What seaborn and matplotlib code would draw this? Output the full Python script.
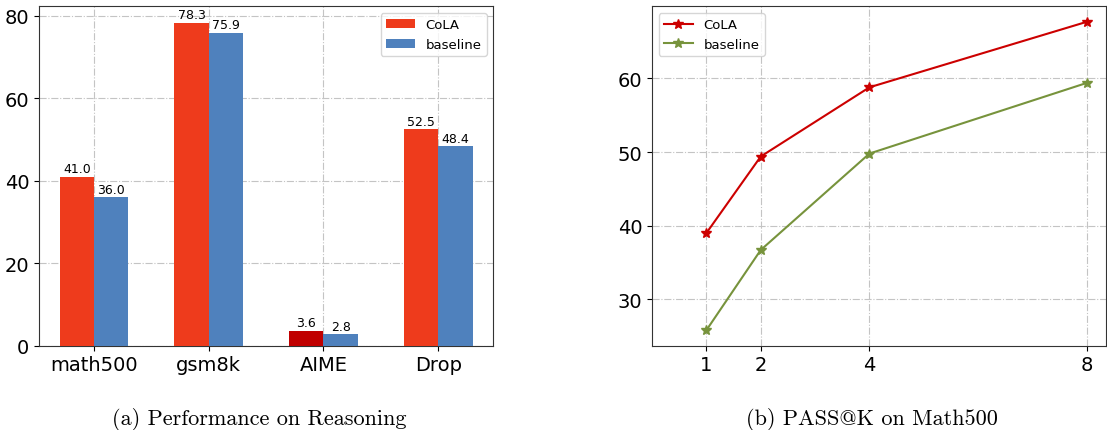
import numpy as np
import pandas as pd
import matplotlib
matplotlib.use("Agg")
import matplotlib.pyplot as plt
import seaborn as sns

# data
tasks = ['math500', 'gsm8k', 'AIME', 'Drop']
cola_scores = [41.0, 78.3, 3.6, 52.5]
baseline_scores = [36.0, 75.9, 2.8, 48.4]

k_values = [1, 2, 4, 8]
cola_pass = [39.0, 49.4, 58.8, 67.7]
baseline_pass = [25.8, 36.7, 49.8, 59.4]

bar_df = pd.DataFrame({
    'task': tasks * 2,
    'score': cola_scores + baseline_scores,
    'method': ['CoLA'] * 4 + ['baseline'] * 4,
})
line_df = pd.DataFrame({
    'k': k_values * 2,
    'pass': cola_pass + baseline_pass,
    'method': ['CoLA'] * 4 + ['baseline'] * 4,
})

plt.rcParams['font.family'] = ['DejaVu Sans']

fig = plt.figure(figsize=(11.07, 4.31), dpi=100)
ax1 = fig.add_axes([0.0352, 0.1956, 0.4104, 0.7874])
ax2 = fig.add_axes([0.589, 0.1956, 0.410, 0.7874])

# (a) bars
sns.barplot(data=bar_df, x='task', y='score', hue='method',
            palette={'CoLA': '#ee3b1c', 'baseline': '#4f81bd'},
            width=0.6, gap=0, saturation=1, ax=ax1, zorder=3)
for cont in ax1.containers:
    ax1.bar_label(cont, fmt='%.1f', fontsize=9, padding=1)
# AIME CoLA bar is drawn darker in the original
ax1.containers[0][2].set_facecolor('#c00000')
ax1.set_xlim(-0.48, 3.48)
ax1.set_ylim(0, 82.3)
ax1.set_yticks([0, 20, 40, 60, 80])
ax1.set_xlabel('')
ax1.set_ylabel('')
ax1.tick_params(labelsize=14)
ax1.grid(True, linestyle='-.', color='#c4c4c4', linewidth=0.8, zorder=0)
ax1.set_axisbelow(True)
ax1.legend(loc='upper right', fontsize=9.5, handlelength=2.2)

# (b) pass@k
line_colors = {'CoLA': '#cc0000', 'baseline': '#77933c'}
sns.lineplot(data=line_df, x='k', y='pass', hue='method',
             palette=line_colors, marker='*', markersize=7,
             linewidth=1.5, ax=ax2)
for ln in ax2.lines:
    ln.set_markeredgecolor(ln.get_color())
    ln.set_markeredgewidth(1.0)
ax2.set_xticks(k_values)
ax2.set_yticks([30, 40, 50, 60])
ax2.set_xlim(0, 8.35)
ax2.set_ylim(23.7, 69.8)
ax2.set_xlabel('')
ax2.set_ylabel('')
ax2.tick_params(labelsize=14)
ax2.grid(True, linestyle='-.', color='#c4c4c4', linewidth=0.8)
ax2.legend(loc='upper left', fontsize=9.5, title=None, handlelength=2.2)
for ln in ax2.get_legend().get_lines():
    ln.set_markeredgecolor(ln.get_color())

for ax in (ax1, ax2):
    for sp in ax.spines.values():
        sp.set_color('#333333')

cap = dict(fontsize=16, family=['cmr10', 'DejaVu Serif'], ha='center', va='center')
fig.text(259 / 1107, 1 - 420 / 431, '(a) Performance on Reasoning', **cap)
fig.text(872 / 1107, 1 - 420 / 431, '(b) PASS@K on Math500', **cap)

fig.savefig('out.png', dpi=100)
